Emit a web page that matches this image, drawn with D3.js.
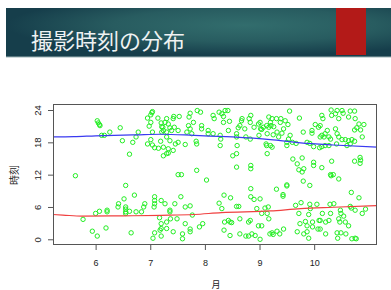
<!DOCTYPE html>
<html>
<head>
<meta charset="utf-8">
<script src="https://cdn.jsdelivr.net/npm/d3@7"></script>
<style>
  body { margin: 0; background: #fff; }
  svg { display: block; }
</style>
</head>
<body>
<svg width="391" height="290"></svg>
<script>
// Data: each photo as [month, hour of day]
const photos = [
  [6.03,22.0],[6.05,21.6],[6.07,21.3],[6.08,21.1],[6.11,19.3],[6.16,19.3],[6.26,19.9],[6.45,20.7],[6.49,18.3],[6.62,15.8],
  [6.68,18.0],[6.74,19.0],[6.78,19.9],[7.03,23.5],[7.01,23.1],[7.04,23.7],[6.95,22.5],[7.14,22.5],[7.01,21.7],[6.98,21.0],
  [7.04,19.9],[7.21,19.9],[7.01,18.5],[6.95,17.7],[7.04,17.5],[7.08,17.0],[7.15,16.9],[7.19,18.2],[5.63,11.8],[7.20,21.6],
  [7.21,20.9],[7.30,22.4],[7.27,21.7],[7.23,20.8],[7.24,20.2],[7.30,19.9],[7.33,21.4],[7.36,20.7],[7.43,22.8],[7.42,22.4],
  [7.53,22.8],[7.39,20.2],[7.44,20.8],[7.51,20.2],[7.30,19.0],[7.36,18.3],[7.46,17.7],[7.51,18.0],[7.64,17.6],[7.24,17.1],
  [7.33,16.8],[7.42,16.5],[7.30,15.9],[7.24,15.5],[7.33,16.0],[7.73,23.4],[7.86,23.9],[7.92,23.6],[7.71,22.7],[7.79,21.7],
  [7.70,21.1],[7.73,20.5],[7.76,19.6],[7.67,19.9],[7.84,18.2],[7.85,17.7],[7.94,21.1],[7.94,20.5],[8.06,20.2],[8.15,19.6],
  [8.06,19.6],[8.15,23.0],[8.17,22.4],[8.26,23.6],[8.31,23.3],[8.34,22.8],[8.37,23.9],[8.42,23.9],[8.34,21.7],[8.45,21.9],
  [8.28,19.3],[8.29,18.6],[8.28,17.4],[8.43,20.2],[8.58,19.6],[8.58,19.0],[8.59,17.4],[8.61,20.7],[8.64,21.1],[8.67,22.0],
  [8.68,22.4],[8.81,22.4],[8.84,23.0],[8.83,21.7],[8.73,20.5],[8.75,19.0],[8.83,18.6],[8.90,20.8],[8.98,21.4],[9.01,21.7],
  [9.02,20.5],[8.99,19.3],[9.04,20.4],[9.07,20.8],[9.13,21.1],[9.14,19.6],[9.12,17.7],[9.13,17.4],[8.51,15.5],[8.58,15.9],
  [8.58,13.4],[8.84,13.7],[8.84,13.1],[7.85,12.8],[7.51,12.0],[7.57,12.0],
  [9.55,23.8],[9.17,22.7],[9.23,22.4],[9.20,21.7],[9.21,21.1],[9.17,20.8],[9.26,20.9],[9.31,22.4],[9.39,22.4],[9.38,21.7],
  [9.47,22.0],[9.52,21.3],[9.44,20.5],[9.41,19.7],[9.32,19.9],[9.25,19.4],[9.35,19.0],[9.73,22.5],[9.56,19.3],[9.53,18.6],
  [9.50,18.0],[9.50,17.4],[9.60,18.0],[9.67,17.8],[9.20,17.4],[9.23,17.1],[9.14,15.9],[9.80,19.9],[9.96,20.2],[9.96,19.7],
  [10.02,21.3],[10.08,20.8],[10.11,21.1],[10.14,23.0],[10.16,22.4],[10.20,19.6],[10.14,19.3],[10.11,19.0],[10.18,19.0],[10.24,20.2],
  [10.27,19.0],[10.30,18.6],[9.87,18.0],[9.92,17.8],[9.99,17.2],[10.10,17.0],[10.14,17.2],[10.20,17.4],[10.31,24.0],[10.32,23.0],
  [10.39,23.3],[10.42,23.9],[10.45,22.4],[10.51,23.9],[10.53,23.4],[10.66,23.8],[10.74,23.8],[10.63,22.7],[10.75,22.4],[10.82,21.4],
  [10.91,21.3],[10.78,20.7],[10.74,20.3],[10.85,20.3],[10.39,20.5],[10.42,19.6],[10.45,19.0],[10.51,18.5],[10.57,18.5],[10.63,18.3],
  [10.69,18.5],[10.74,18.2],[10.88,19.0],[10.60,17.4],[10.66,17.7],[10.41,17.7],[10.27,17.4],
  [9.61,14.9],[9.69,14.0],[9.78,15.1],[9.72,12.9],[9.81,13.1],[9.99,14.3],[9.99,13.7],[10.14,13.3],[10.30,12.0],[10.35,12.0],
  [9.78,12.5],[10.74,14.5],[10.84,15.2],[10.85,14.7],[10.84,14.1],[10.32,14.5],
  [6.55,10.0],[6.71,8.2],[6.52,7.5],[6.42,6.6],[6.41,6.0],[6.55,6.0],[6.55,5.6],[6.55,5.1],[6.55,4.8],[6.62,5.2],
  [6.74,5.1],[6.84,5.1],[6.88,6.0],[6.90,6.6],[7.08,7.9],[7.08,7.2],[7.08,6.6],[7.07,6.0],[7.20,7.2],[6.07,5.2],
  [6.00,4.8],[6.21,5.4],[6.21,5.1],[5.77,3.7],[6.19,2.1],[5.94,1.5],[6.03,0.6],[6.65,1.2],[7.17,4.0],[7.20,2.9],
  [7.20,2.0],[7.08,1.2],[7.05,0.2],[7.20,0.6],
  [8.03,11.0],[8.84,9.4],[7.56,7.9],[8.35,8.2],[8.47,7.7],[8.84,7.9],[8.90,7.4],[9.01,7.5],[7.27,6.6],[7.45,6.6],
  [7.64,6.0],[7.73,6.2],[7.36,5.4],[7.36,5.1],[8.26,6.7],[8.31,5.7],[8.58,6.1],[8.62,6.1],[8.95,5.7],[9.04,4.8],
  [9.10,5.8],[9.16,6.0],[7.77,4.5],[7.49,3.8],[7.37,3.8],[7.30,3.2],[7.30,2.0],[7.18,1.7],[7.42,1.4],[7.64,2.9],
  [7.73,1.9],[7.73,1.4],[7.90,2.3],[7.96,2.9],[7.59,1.0],[7.59,0.1],[8.36,3.2],[8.43,3.5],[8.46,3.2],[8.49,3.1],
  [8.64,3.8],[8.80,3.2],[8.83,3.5],[8.98,2.5],[9.04,2.5],[8.64,1.0],[8.75,0.6],[8.80,0.6],[8.86,1.0],[8.92,0.7],
  [9.01,0.0],[8.35,1.7],[8.46,0.7],[9.19,1.0],
  [10.31,11.8],[10.45,11.2],[9.31,9.3],[9.50,10.1],[9.50,9.9],[9.80,10.8],[9.92,10.0],[9.43,8.3],[9.43,8.0],[10.68,8.7],
  [10.82,7.7],[9.66,6.3],[9.76,6.8],[9.92,6.5],[9.93,5.7],[10.05,6.5],[10.29,6.5],[10.36,6.6],[10.66,6.1],[10.68,5.8],
  [10.75,5.4],[10.88,4.8],[10.94,5.6],[10.48,5.4],[10.49,4.8],[9.72,4.8],[9.90,4.6],[10.15,4.8],[10.30,4.8],[9.74,2.9],
  [9.84,3.3],[9.87,2.5],[9.97,3.2],[10.09,3.5],[10.11,3.5],[10.21,3.2],[10.27,3.5],[10.45,3.8],[10.54,4.3],[10.47,3.2],
  [10.57,3.2],[10.63,2.5],[9.97,2.3],[10.07,1.9],[10.11,1.9],[10.21,1.0],[10.42,1.2],[10.49,1.2],[10.58,1.0],[10.43,0.2],
  [10.75,0.2],[10.69,0.1],[10.77,0.1],[9.87,1.4],[9.81,1.0],[9.90,0.2],[9.69,1.4],[9.17,3.8],[9.14,4.8],[9.25,0.9],
  [9.32,1.5],[9.37,1.0],[9.44,1.9],[9.23,1.2]
]

// smoothed trend lines
const eveningFit = [[5.22,19.0],[5.6,19.05],[6.0,19.2],[6.75,19.4],[7.2,19.5],[7.8,19.3],[8.5,19.0],[9.2,18.5],[9.75,17.9],[10.35,17.5],[11.15,17.1]]
const morningFit = [[5.22,4.6],[5.4,4.5],[5.75,4.3],[6.5,4.35],[7.2,4.45],[7.8,4.6],[8.3,4.95],[9.2,5.26],[9.75,5.7],[10.35,5.95],[11.15,6.25]]

const monthTicks = [6, 7, 8, 9, 10]
const hourTicks = [0, 6, 12, 18, 24]
const title = '撮影時刻の分布'

const svg = d3.select('svg')
const defs = svg.append('defs')

// header band
const grad = defs.append('radialGradient')
    .attr('id', 'hdr')
    .attr('cx', 0.62).attr('cy', 0.35).attr('r', 0.62)
grad.append('stop').attr('offset', 0).attr('stop-color', '#326d6d')
grad.append('stop').attr('offset', 0.55).attr('stop-color', '#285c60')
grad.append('stop').attr('offset', 1).attr('stop-color', '#163e4b')

svg.append('rect')
    .attr('x', 6).attr('y', 8)
    .attr('width', 385).attr('height', 49)
    .attr('fill', 'url(#hdr)')
svg.append('line')
    .attr('x1', 6).attr('x2', 391)
    .attr('y1', 57).attr('y2', 57)
    .attr('stroke', '#9db3b6')
svg.append('rect')
    .attr('x', 336).attr('y', 8)
    .attr('width', 30).attr('height', 47)
    .attr('fill', '#b31a18')
svg.append('text')
    .attr('x', 31).attr('y', 49)
    .attr('font-family', '"Noto Sans CJK JP", sans-serif')
    .attr('font-size', 22)
    .attr('fill', '#eef2f2')
    .text(title)

// plot area
const box = { left: 53, top: 105, right: 377, bottom: 245 }

const x = d3.scaleLinear().domain([5.22, 11.15]).range([box.left, box.right])
const y = d3.scaleLinear().domain([-1.06, 24.93]).range([box.bottom, box.top])

svg.append('clipPath').attr('id', 'plot')
    .append('rect')
    .attr('x', box.left).attr('y', box.top)
    .attr('width', box.right - box.left).attr('height', box.bottom - box.top)

const plot = svg.append('g').attr('clip-path', 'url(#plot)')

plot.selectAll('circle')
    .data(photos)
    .join('circle')
    .attr('cx', d => x(d[0]))
    .attr('cy', d => y(d[1]))
    .attr('r', 2.2)
    .attr('fill', 'none')
    .attr('stroke', '#22ee22')
    .attr('stroke-width', 1)

const line = d3.line().x(d => x(d[0])).y(d => y(d[1])).curve(d3.curveMonotoneX)

plot.append('path')
    .attr('d', line(eveningFit))
    .attr('fill', 'none')
    .attr('stroke', '#3a3af0')
    .attr('stroke-width', 1.2)
plot.append('path')
    .attr('d', line(morningFit))
    .attr('fill', 'none')
    .attr('stroke', '#f04040')
    .attr('stroke-width', 1.2)

svg.append('rect')
    .attr('x', box.left + 0.5).attr('y', box.top - 0.5)
    .attr('width', box.right - box.left - 1).attr('height', box.bottom - box.top)
    .attr('fill', 'none')
    .attr('stroke', '#555')

// axes
const xAxis = svg.append('g')
    .attr('transform', `translate(0,${box.bottom})`)
    .call(d3.axisBottom(x).tickValues(monthTicks).tickFormat(d3.format('d')).tickSize(5).tickPadding(10))
xAxis.select('.domain').remove()
xAxis.selectAll('line').attr('stroke', '#555')
xAxis.selectAll('text')
    .attr('font-family', 'Liberation Sans, Arial, sans-serif')
    .attr('font-size', 9)
    .attr('fill', '#222')

const yAxis = svg.append('g')
    .attr('transform', `translate(${box.left},0)`)
    .call(d3.axisLeft(y).tickValues(hourTicks).tickFormat(d3.format('d')).tickSize(5))
yAxis.select('.domain').remove()
yAxis.selectAll('line').attr('stroke', '#555')
yAxis.selectAll('text')
    .attr('x', null).attr('dy', null)
    .attr('transform', 'translate(-12,0) rotate(-90)')
    .attr('text-anchor', 'middle')
    .attr('font-family', 'Liberation Sans, Arial, sans-serif')
    .attr('font-size', 9.5)
    .attr('fill', '#222')

svg.append('text')
    .attr('x', 216).attr('y', 288)
    .attr('text-anchor', 'middle')
    .attr('font-family', '"Noto Sans CJK JP", sans-serif')
    .attr('font-size', 9)
    .attr('fill', '#222')
    .text('月')

svg.append('text')
    .attr('transform', 'translate(18,175) rotate(-90)')
    .attr('text-anchor', 'middle')
    .attr('font-family', '"Noto Sans CJK JP", sans-serif')
    .attr('font-size', 10)
    .attr('fill', '#222')
    .text('時刻')
</script>
</body>
</html>
